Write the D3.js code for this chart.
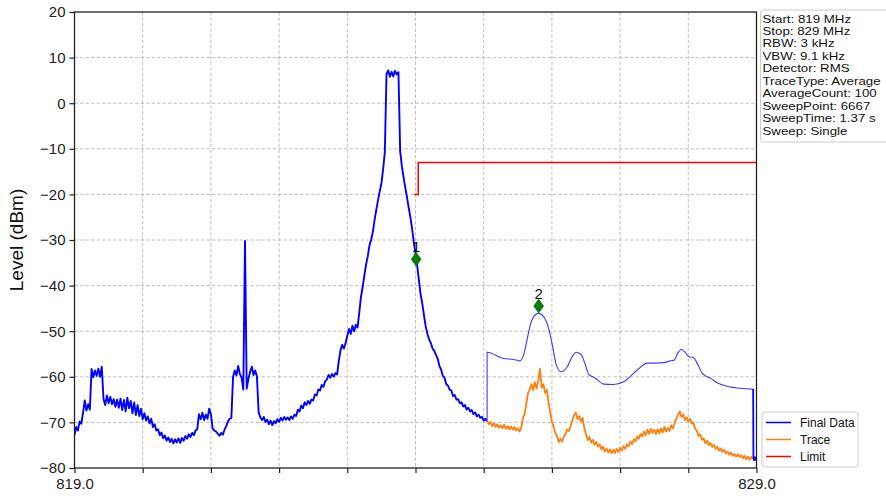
<!DOCTYPE html>
<html>
<head>
<meta charset="utf-8">
<script src="https://cdn.jsdelivr.net/npm/d3@7"></script>
<style>
html,body{margin:0;padding:0;background:#fff;}
svg{display:block;font-family:"Liberation Sans",Arial,sans-serif;}
</style>
</head>
<body>
<svg id="chart" width="886" height="498"></svg>
<script>
// ---------------- DATA ----------------
const xDomain = [819, 829];
const yDomain = [-80, 20];
const yTicks = [20, 10, 0, -10, -20, -30, -40, -50, -60, -70, -80];
const xTicks = [819, 820, 821, 822, 823, 824, 825, 826, 827, 828, 829];
const xTickLabels = ["819.0", "", "", "", "", "", "", "", "", "", "829.0"];

// Final Data, measured part: sweep starting at 819.000 MHz, step 0.025 MHz
const finalStart = 819.0;
const finalStep = 0.025;
const finalNoisy = [
 -72.8,-71.0,-71.8,-69.8,-70.3,-67.9,-65.2,-67.4,-66.0,-67.2,
 -58.3,-60.1,-58.6,-59.8,-58.2,-60.0,-57.8,-64.8,-66.2,-64.1,
 -65.8,-64.4,-66.0,-64.9,-66.6,-65.0,-66.8,-64.8,-67.3,-65.1,
 -67.6,-64.6,-66.9,-65.3,-68.0,-65.6,-68.4,-66.2,-68.6,-67.0,
 -69.3,-68.0,-69.6,-68.7,-70.2,-69.2,-71.0,-70.4,-71.8,-71.5,
 -72.8,-72.2,-73.5,-72.9,-74.0,-73.3,-74.3,-73.6,-74.6,-73.7,
 -74.4,-73.5,-74.5,-73.4,-74.0,-73.0,-73.6,-72.6,-73.2,-72.3,
 -72.8,-71.8,-71.5,-68.2,-69.3,-67.9,-69.5,-68.3,-69.2,-67.0,
 -68.2,-71.3,-71.8,-72.0,-72.5,-72.9,-72.3,-72.7,-71.6,-70.8,
 -69.8,-69.2,-69.0,-60.0,-58.6,-59.7,-57.6,-59.4,-60.2,-62.8,
 -30.2,-62.6,-60.5,-58.9,-57.8,-59.6,-58.6,-60.0,-67.8,-68.9,
 -69.5,-68.8,-69.9,-69.4,-70.4,-69.6,-70.6,-69.7,-70.2,-69.3,
 -69.9,-69.0,-69.6,-68.8,-69.4,-68.9,-69.5,-68.7,-69.2,-68.3,
 -68.6,-67.2,-67.6,-66.3,-66.9,-65.6,-66.2,-65.3,-65.9,-65.0,
 -65.2,-63.9,-64.1,-62.8,-63.0,-61.8,-62.2,-61.0,-60.6,-59.6,
 -60.2,-59.4,-60.0,-59.2,-59.5,-56.6,-54.2,-53.0,-53.8,-52.6,
 -51.0,-49.5,-50.6,-48.8,-50.0,-48.6,-49.2,-46.0,-42.5,-40.3,
 -37.8,-35.4,-33.6,-31.2,-29.9,-28.2,-25.6,-23.4,-21.3,-19.4,
 -17.6,-14.5,-10.8,6.4,7.2,5.8,6.9,5.9,7.1,6.3,
 6.8,-10.5,-13.8,-16.2,-18.5,-20.6,-22.9,-25.0,-27.5,-30.4,
 -33.0,-35.6,-38.8,-41.9,-44.0,-46.6,-49.0,-50.6,-51.8,-52.6,
 -53.8,-54.3,-55.2,-56.0,-57.6,-58.4,-59.8,-60.2,-61.6,-61.9,
 -62.8,-63.0,-64.2,-64.0,-65.0,-64.9,-65.8,-65.6,-66.5,-66.2,
 -67.2,-66.8,-67.6,-67.3,-68.2,-67.8,-68.7,-68.3,-69.0,-68.8,
 -69.6,-69.2,-69.8
];

// Final Data, upper (smooth) part
const finalSmoothFreq = [825.05,825.292,825.439,825.527,825.585,825.635,825.684,825.757,825.806,825.879,
 825.952,826.002,826.065,826.134,826.222,826.296,826.359,826.432,826.491,826.539,
 826.638,826.760,826.906,827.053,827.200,827.298,827.396,827.518,827.640,827.738,
 827.797,827.845,827.899,827.958,828.007,828.071,828.130,828.203,828.252,828.325,
 828.423,828.594,828.765,828.951];
const finalSmoothVal = [-54.6,-56.0,-56.2,-56.5,-55.2,-51.9,-48.6,-46.4,-46.1,-46.8,
 -49.4,-52.7,-57.4,-58.9,-57.9,-55.6,-54.6,-55.2,-57.4,-59.4,
 -60.3,-61.6,-61.7,-61.1,-59.2,-57.9,-57.0,-57.0,-56.9,-56.5,
 -56.3,-54.8,-54.0,-54.7,-55.6,-55.7,-57.0,-59.2,-59.8,-60.3,
 -61.3,-62.2,-62.5,-62.7];
// Final Data, tail
const finalTailFreq = [828.955, 828.965, 828.975, 828.985, 828.995, 829.0];
const finalTailVal  = [-77.8, -78.4, -77.5, -78.3, -77.7, -78.1];

// Trace: sweep starting at 825.05 MHz, step 0.025 MHz
const traceStart = 825.05;
const traceStep = 0.025;
const traceVals = [
 -69.6,-70.4,-69.9,-70.8,-70.2,-71.0,-70.4,-71.2,-70.6,-71.3,
 -70.5,-71.4,-70.8,-71.5,-70.9,-71.6,-71.0,-71.8,-71.3,-72.0,
 -71.2,-69.0,-68.2,-65.8,-63.6,-62.8,-61.6,-62.9,-61.2,-62.6,
 -60.8,-58.2,-62.4,-61.6,-63.5,-62.8,-65.6,-67.8,-69.8,-71.0,
 -72.3,-73.0,-74.3,-73.6,-74.2,-73.1,-72.5,-71.6,-71.9,-70.8,
 -69.6,-68.4,-67.8,-69.3,-68.6,-69.8,-69.0,-71.2,-72.6,-73.9,
 -73.2,-74.4,-73.8,-74.9,-74.3,-75.3,-74.8,-75.9,-75.3,-76.4,
 -75.7,-76.6,-75.9,-76.8,-76.0,-76.7,-75.8,-76.5,-75.6,-76.2,
 -75.2,-75.8,-74.8,-75.3,-74.2,-74.8,-73.7,-74.2,-73.1,-73.6,
 -72.5,-73.1,-72.0,-72.8,-71.6,-72.5,-71.4,-72.3,-71.6,-72.6,
 -71.5,-72.4,-71.3,-72.2,-71.0,-72.0,-71.2,-71.9,-70.6,-71.3,
 -70.0,-69.2,-68.3,-67.6,-68.8,-68.2,-69.5,-68.9,-69.9,-69.2,
 -70.2,-70.0,-71.4,-71.8,-73.0,-72.6,-73.8,-73.5,-74.6,-74.0,
 -75.0,-74.5,-75.4,-74.9,-75.8,-75.3,-76.2,-75.7,-76.5,-76.0,
 -76.8,-76.4,-77.1,-76.6,-77.3,-76.9,-77.5,-77.0,-77.6,-77.2,
 -77.9,-77.3,-78.1,-77.5,-78.2,-77.6,-78.0
];

// Limit line
const limitFreq = [823.98, 824.04, 824.04, 829.0];
const limitVal  = [-20, -20, -13, -13];

// Markers
const markerNames = ["1", "2"];
const markerFreq = [824.01, 825.806];
const markerVal  = [-34.2, -44.5];

// Info box & legend
const infoLines = ["Start: 819 MHz","Stop: 829 MHz","RBW: 3 kHz","VBW: 9.1 kHz","Detector: RMS",
 "TraceType: Average","AverageCount: 100","SweepPoint: 6667","SweepTime: 1.37 s","Sweep: Single"];
const legendNames = ["Final Data", "Trace", "Limit"];
const legendColors = ["#0000ff", "#ff7f0e", "#ff0000"];

// ---------------- CHART ----------------
const svg = d3.select("#chart");
const L = 74.5, R = 756.5, T = 12, B = 468;
const x = d3.scaleLinear().domain(xDomain).range([L, R]);
const y = d3.scaleLinear().domain(yDomain).range([B, T]);

svg.append("defs").append("clipPath").attr("id","clip")
  .append("rect").attr("x", L).attr("y", T).attr("width", R - L).attr("height", B - T);

// grid
const grid = svg.append("g");
grid.selectAll("line.h").data(yTicks.slice(1, -1)).join("line")
  .attr("x1", L).attr("x2", R).attr("y1", d => y(d)).attr("y2", d => y(d))
  .attr("stroke", "#b0b0b0").attr("stroke-width", 0.8).attr("stroke-dasharray", "3.5,2");
grid.selectAll("line.v").data(xTicks.slice(1, -1)).join("line")
  .attr("y1", T).attr("y2", B).attr("x1", d => x(d)).attr("x2", d => x(d))
  .attr("stroke", "#b0b0b0").attr("stroke-width", 0.8).attr("stroke-dasharray", "3.5,2");

const plot = svg.append("g").attr("clip-path", "url(#clip)");
const line = d3.line().x(d => x(d[0])).y(d => y(d[1]));

const noisyPts = finalNoisy.map((v, i) => [finalStart + i * finalStep, v]);
const smoothPts = finalSmoothFreq.map((f, i) => [f, finalSmoothVal[i]]);
const tailPts = finalTailFreq.map((f, i) => [f, finalTailVal[i]]);
const tracePts = traceVals.map((v, i) => [traceStart + i * traceStep, v]);
const limitPts = limitFreq.map((f, i) => [f, limitVal[i]]);

plot.append("path").datum(noisyPts).attr("d", line)
  .attr("fill", "none").attr("stroke", "#0000ff").attr("stroke-width", 1.9).attr("stroke-linejoin", "round");
plot.append("path").datum([noisyPts[noisyPts.length - 1]].concat(smoothPts))
  .attr("d", d3.line().x(d => x(d[0])).y(d => y(d[1])).curve(d3.curveMonotoneX))
  .attr("fill", "none").attr("stroke", "#3a3aff").attr("stroke-width", 1.1);
plot.append("path").datum(tracePts).attr("d", line)
  .attr("fill", "none").attr("stroke", "#ff7f0e").attr("stroke-width", 1.8).attr("stroke-linejoin", "round");
plot.append("path").datum([smoothPts[smoothPts.length - 1]].concat(tailPts)).attr("d", line)
  .attr("fill", "none").attr("stroke", "#0000ff").attr("stroke-width", 1.8);
plot.append("path").datum(limitPts).attr("d", line)
  .attr("fill", "none").attr("stroke", "#ff0000").attr("stroke-width", 1.5);

// markers
const mk = svg.append("g");
markerNames.forEach((n, i) => {
  const cx = x(markerFreq[i]), cy = y(markerVal[i]);
  mk.append("path").attr("d", `M${cx},${cy - 7}L${cx + 5},${cy}L${cx},${cy + 7}L${cx - 5},${cy}Z`)
    .attr("fill", "#008000").attr("stroke", "#006400").attr("stroke-width", 0.5);
  mk.append("text").attr("x", cx).attr("y", cy - 7.5).attr("text-anchor", "middle")
    .attr("font-size", 15).attr("fill", "#111").text(n);
});

// frame
svg.append("rect").attr("x", L).attr("y", T).attr("width", R - L).attr("height", B - T)
  .attr("fill", "none").attr("stroke", "#222").attr("stroke-width", 1.3);

// axes
const yAxis = d3.axisLeft(y).tickValues(yTicks).tickSize(5).tickPadding(4)
  .tickFormat(d => d3.format("d")(d).replace("-", "\u2212"));
const gy = svg.append("g").attr("transform", `translate(${L},0)`).call(yAxis);
gy.select(".domain").remove();
gy.selectAll("line").attr("stroke", "#222").attr("stroke-width", 1.2);
gy.selectAll("text").attr("font-size", 15).attr("fill", "#222").attr("font-family", "Liberation Sans, Arial, sans-serif");

const xAxis = d3.axisBottom(x).tickValues(xTicks).tickSize(5).tickPadding(5)
  .tickFormat((d, i) => xTickLabels[i]);
const gx = svg.append("g").attr("transform", `translate(0,${B})`).call(xAxis);
gx.select(".domain").remove();
gx.selectAll("line").attr("stroke", "#222").attr("stroke-width", 1.2);
gx.selectAll("text").attr("font-size", 15).attr("fill", "#222").attr("font-family", "Liberation Sans, Arial, sans-serif");

svg.append("text").attr("transform", `translate(23,${(T + B) / 2}) rotate(-90)`)
  .attr("text-anchor", "middle").attr("font-size", 19).attr("fill", "#111").text("Level (dBm)");

// info box
const info = svg.append("g");
info.append("rect").attr("x", 760.5).attr("y", 10).attr("width", 140).attr("height", 132)
  .attr("rx", 3).attr("fill", "#fff").attr("stroke", "#cccccc").attr("stroke-width", 1);
const sq = 0.78;
const infoText = info.append("g").attr("transform", `translate(762.5,22.5) scale(1,${sq})`);
infoText.selectAll("text").data(infoLines).join("text")
  .attr("x", 0).attr("y", (d, i) => i * 12.5 / sq)
  .attr("font-size", 13.3).attr("fill", "#111").text(d => d);

// legend
const lg = svg.append("g");
lg.append("rect").attr("x", 762).attr("y", 412).attr("width", 96).attr("height", 55)
  .attr("rx", 3).attr("fill", "#fff").attr("stroke", "#cccccc").attr("stroke-width", 1);
legendNames.forEach((n, i) => {
  const cy = 422.5 + i * 17;
  lg.append("line").attr("x1", 766).attr("x2", 791).attr("y1", cy).attr("y2", cy)
    .attr("stroke", legendColors[i]).attr("stroke-width", 1.5);
  lg.append("text").attr("x", 800).attr("y", cy + 4.3).attr("font-size", 12).attr("fill", "#111").text(n);
});
</script>
</body>
</html>
